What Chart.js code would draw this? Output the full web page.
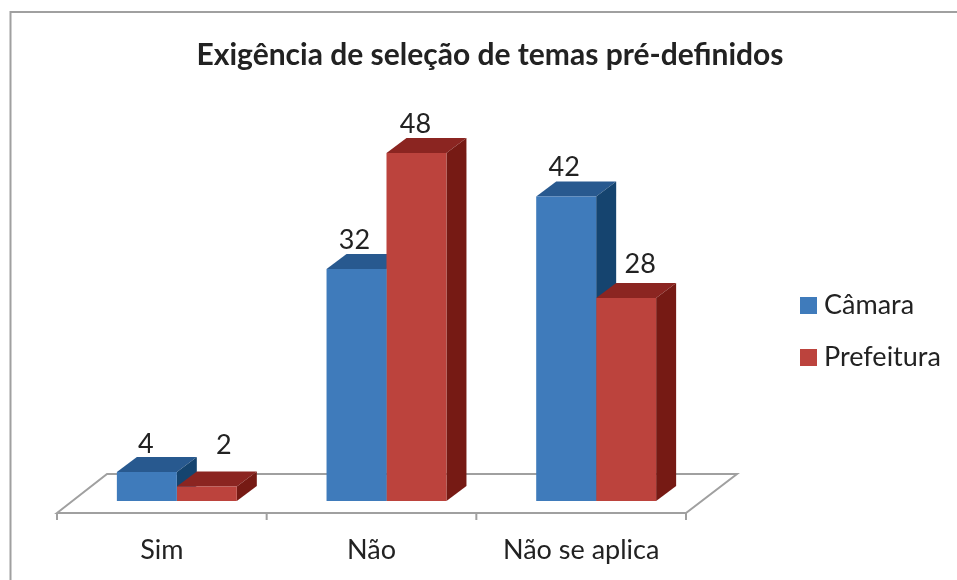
<!DOCTYPE html>
<html lang="pt">
<head>
    <meta charset="UTF-8">
    <title>Exigência de seleção de temas pré-definidos</title>
    <script src="https://cdn.jsdelivr.net/npm/chart.js"></script>
    <style>
        html, body { margin: 0; padding: 0; background: #fff; overflow: hidden; }
        canvas { display: block; }
    </style>
</head>
<body>
    <canvas id="chart" width="957" height="580"></canvas>
    <script>
        const titleText = 'Exigência de seleção de temas pré-definidos';
        const categories = ['Sim', 'Não', 'Não se aplica'];
        const camara = [4, 32, 42];
        const prefeitura = [2, 48, 28];

        const FONT = 'Lato, Carlito, sans-serif';
        const TEXT = '#222222';
        const LINE = '#a0a0a0';
        const DEPTH_X = 20, DEPTH_Y = 15;
        const colors = [
            { front: '#3f7bbb', top: '#28598f', side: '#15446f' },
            { front: '#bc433d', top: '#8b2521', side: '#761a14' }
        ];
        // the value labels were placed by hand in the original, so they sit unevenly
        const labelShift = [
            [[-1, -28], [-2, -29], [-2, -29]],
            [[17, -41], [-1, -29], [14, -34]]
        ];

        function poly(ctx, pts, fill) {
            ctx.beginPath();
            pts.forEach((p, i) => i ? ctx.lineTo(p[0], p[1]) : ctx.moveTo(p[0], p[1]));
            ctx.closePath();
            ctx.fillStyle = fill;
            ctx.fill();
        }

        const chartDecor = {
            id: 'chartDecor',
            beforeDatasetsDraw(chart) {
                const ctx = chart.ctx, x = chart.scales.x;
                const left = x.left - 15, right = x.right - 15, y = chart.chartArea.bottom + 12;
                ctx.save();
                ctx.strokeStyle = LINE;
                ctx.lineWidth = 2;
                // frame, only top and left are inside the picture
                ctx.beginPath();
                ctx.moveTo(10.5, 580);
                ctx.lineTo(10.5, 12);
                ctx.lineTo(957, 12);
                ctx.stroke();
                // floor
                ctx.beginPath();
                ctx.moveTo(left, y);
                ctx.lineTo(left + 50, y - 39);
                ctx.lineTo(right + 51, y - 39);
                ctx.lineTo(right, y);
                ctx.closePath();
                ctx.stroke();
                for (let i = 0; i <= categories.length; i++) {
                    const tx = left + i * (right - left) / categories.length;
                    ctx.beginPath();
                    ctx.moveTo(tx, y);
                    ctx.lineTo(tx, y + 7);
                    ctx.stroke();
                }
                ctx.restore();
                // top and side of each bar, the library draws the fronts afterwards
                chart.data.datasets.forEach((ds, i) => {
                    const c = colors[i];
                    chart.getDatasetMeta(i).data.forEach(bar => {
                        const l = bar.x - bar.width / 2, r = bar.x + bar.width / 2, t = bar.y, b = bar.base;
                        poly(ctx, [[l, t], [r, t], [r + DEPTH_X, t - DEPTH_Y], [l + DEPTH_X, t - DEPTH_Y]], c.top);
                        poly(ctx, [[r, t], [r + DEPTH_X, t - DEPTH_Y], [r + DEPTH_X, b - DEPTH_Y], [r, b]], c.side);
                    });
                });
            },
            afterDatasetsDraw(chart) {
                const ctx = chart.ctx;
                ctx.save();
                ctx.fillStyle = TEXT;
                // value labels
                ctx.font = '27px ' + FONT;
                ctx.textAlign = 'center';
                ctx.textBaseline = 'middle';
                chart.data.datasets.forEach((ds, i) => {
                    chart.getDatasetMeta(i).data.forEach((bar, j) => {
                        ctx.fillText(ds.data[j], bar.x + labelShift[i][j][0], bar.y + labelShift[i][j][1]);
                    });
                });
                // title
                ctx.font = 'bold 30px ' + FONT;
                ctx.fillText(titleText, 490, 55);
                // legend
                ctx.font = '27px ' + FONT;
                ctx.textAlign = 'left';
                chart.data.datasets.forEach((ds, i) => {
                    const y = 305.5 + i * 52;
                    ctx.fillStyle = colors[i].front;
                    ctx.fillRect(800, y - 8.5, 17, 17);
                    ctx.fillStyle = TEXT;
                    ctx.fillText(ds.label, 824, y);
                });
                ctx.restore();
            }
        };

        new Chart(document.getElementById('chart'), {
            type: 'bar',
            data: {
                labels: categories,
                datasets: [
                    { label: 'Câmara', data: camara, backgroundColor: colors[0].front },
                    { label: 'Prefeitura', data: prefeitura, backgroundColor: colors[1].front }
                ]
            },
            options: {
                responsive: false,
                animation: false,
                layout: { padding: { left: 72, right: 256, top: 153, bottom: 0 } },
                categoryPercentage: 0.572,
                barPercentage: 1,
                plugins: {
                    legend: { display: false },
                    title: { display: false },
                    tooltip: { enabled: false }
                },
                scales: {
                    x: {
                        afterFit(scale) { scale.height = 79; },
                        grid: { display: false, drawTicks: false },
                        border: { display: false },
                        ticks: {
                            color: TEXT,
                            font: { family: FONT, size: 27 },
                            padding: 33,
                            labelOffset: -15,
                            maxRotation: 0
                        }
                    },
                    y: { display: false, min: 0, max: 48 }
                }
            },
            plugins: [chartDecor]
        });
    </script>
</body>
</html>
